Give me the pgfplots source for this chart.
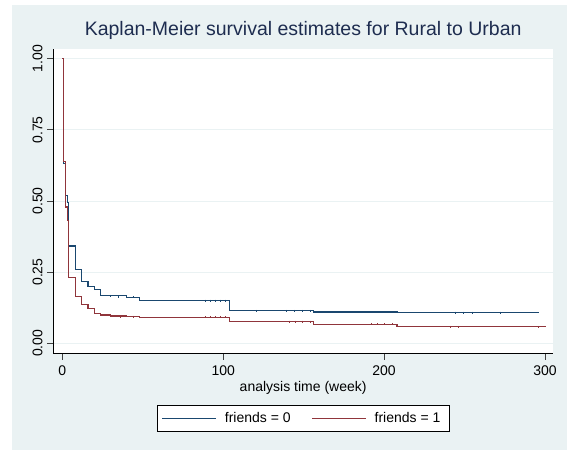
\documentclass[border=0pt]{standalone}
\usepackage{pgfplots}
\pgfplotsset{compat=1.18}
\usepackage{fontspec}
\setmainfont{Liberation Sans}
\definecolor{bgc}{RGB}{234,242,243}
\definecolor{navyc}{RGB}{26,71,111}
\definecolor{maroonc}{RGB}{144,53,59}
\definecolor{titlec}{RGB}{30,45,80}
\definecolor{gridc}{RGB}{234,242,243}
\begin{document}
\begin{tikzpicture}[x=1pt,y=1pt]
\useasboundingbox (0,0) rectangle (567,450);
\fill[white] (0,0) rectangle (567,450);
\fill[bgc] (12,0) rectangle (567,445);
\begin{axis}[
  at={(53.3pt,96.7pt)}, anchor=south west,
  scale only axis, width=499.7pt, height=304pt,
  xmin=-5.59, xmax=304.97, ymin=-0.0351, ymax=1.033,
  axis background/.style={fill=white},
  axis x line*=bottom, axis y line*=left,
  axis line style={black, line width=0.9pt},
  xtick={0,100,200,300}, xticklabels={0,100,200,300},
  ytick={0,0.25,0.5,0.75,1},
  yticklabels={0.00,0.25,0.50,0.75,1.00},
  tick align=outside, major tick length=6.5pt,
  tick style={black!75, line width=0.8pt},
  ymajorgrids, grid style={gridc, line width=1pt},
  ticklabel style={font=\fontsize{14}{16}\selectfont},
  xticklabel style={anchor=base, inner sep=0pt, yshift=-16pt},
  yticklabel style={xshift=-4.3pt, rotate=90, anchor=base, inner sep=0pt},
  title={Kaplan-Meier survival estimates for Rural to Urban},
  title style={at={(0.5,1)}, anchor=base, yshift=7.6pt, inner sep=0pt,
    font=\fontsize{19.5}{22}\selectfont, text=titlec},
  xlabel={analysis time (week)},
  xlabel style={at={(axis description cs:0.5,0)}, anchor=base, yshift=-37.7pt,
    inner sep=0pt, font=\fontsize{14}{16}\selectfont},
  legend style={at={(0.5,-0.2133)}, anchor=center, draw=black, line width=0.6pt,
    fill=white, font=\fontsize{14}{16}\selectfont,
    inner xsep=5pt, inner ysep=3.5pt,
    nodes={inner xsep=4pt, inner ysep=3.5pt},
    /tikz/every odd column/.append style={column sep=4pt},
    /tikz/every even column/.append style={column sep=17pt}},
  legend columns=2,
  legend image code/.code={\draw[line width=1pt] (0pt,0pt) -- (54pt,0pt);},
]
\addplot[const plot, navyc, line width=1.1pt] coordinates {
(0,1.0) (1,0.631) (2,0.518) (3,0.495) (4,0.342) (8,0.258) (12,0.217)
(16,0.199) (20,0.190) (24,0.169) (28,0.167) (40,0.162) (48,0.150)
(104,0.114) (156,0.110) (208,0.108) (296.3,0.108)};
\addlegendentry{friends = 0}
\addplot[const plot, maroonc, line width=1.1pt] coordinates {
(0,1.0) (1,0.638) (2,0.479) (3,0.431) (4,0.232) (8,0.164) (12,0.135)
(16,0.123) (20,0.105) (24,0.0995) (30,0.096) (40,0.094) (48,0.091)
(104,0.076) (156,0.067) (208,0.058) (300.9,0.058)};
\addlegendentry{friends = 1}
\addplot[only marks, mark=|, mark size=1pt, navyc, mark options={line width=0.5pt}, forget plot] coordinates {
(30,0.167) (35,0.162) (44,0.162) (88.6,0.150) (91.7,0.150) (94.8,0.150) (97.9,0.150) (101,0.150)
(120.7,0.114) (139,0.114) (144,0.114) (149,0.114) (154,0.114)
(192,0.110) (196,0.110) (200,0.110) (205,0.110)
(244,0.108) (249,0.108) (255,0.108) (272,0.108)};
\addplot[only marks, mark=|, mark size=1pt, maroonc, mark options={line width=0.5pt}, forget plot] coordinates {
(36,0.094) (44,0.094) (88.6,0.091) (91.7,0.091) (94.8,0.091) (97.9,0.091) (101,0.091)
(141,0.076) (145,0.076) (149,0.076) (154,0.076)
(192,0.067) (196,0.067) (200,0.067) (205,0.067)
(241,0.058) (246,0.058) (296,0.058)};
\end{axis}
\end{tikzpicture}
\end{document}
